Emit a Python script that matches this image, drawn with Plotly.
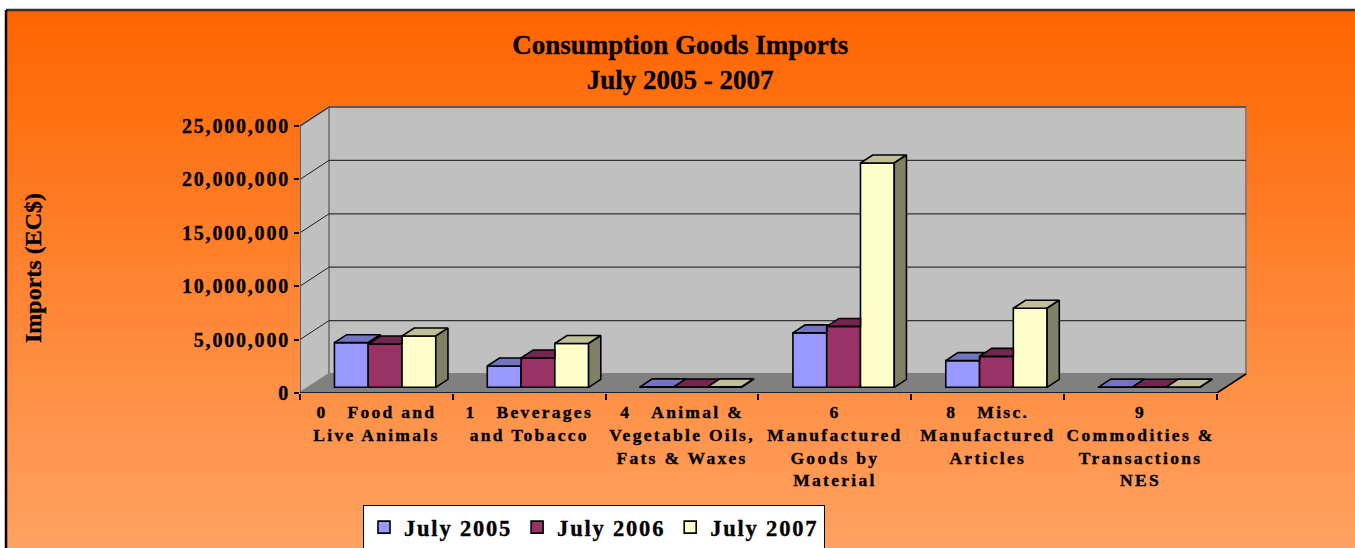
import base64
import struct
import zlib

import plotly.graph_objects as go

# ---------------- data ----------------
category_lines = [
    ["0\u00a0\u00a0\u00a0Food and", "Live Animals"],
    ["1\u00a0\u00a0\u00a0Beverages", "and Tobacco"],
    ["4\u00a0\u00a0\u00a0Animal &", "Vegetable Oils,", "Fats & Waxes"],
    ["6", "Manufactured", "Goods by", "Material"],
    ["8\u00a0\u00a0\u00a0Misc.", "Manufactured", "Articles"],
    ["9", "Commodities &", "Transactions", "NES"],
]
series_names = ["July 2005", "July 2006", "July 2007"]
july_2005 = [4_180_000, 2_000_000, 40_000, 5_100_000, 2_500_000, 15_000]
july_2006 = [4_050_000, 2_750_000, 35_000, 5_700_000, 2_900_000, 12_000]
july_2007 = [4_800_000, 4_100_000, 45_000, 21_000_000, 7_400_000, 18_000]
y_tick_values = [0, 5_000_000, 10_000_000, 15_000_000, 20_000_000, 25_000_000]
y_tick_labels = ["0", "5,000,000", "10,000,000", "15,000,000", "20,000,000", "25,000,000"]

series_values = [july_2005, july_2006, july_2007]

# ---------------- styles ----------------
front_colors = ["#9999FF", "#993366", "#FFFFCC"]
top_colors = ["#7373BF", "#73264D", "#BFBF99"]
side_colors = ["#4D4D80", "#4D1A33", "#808066"]
FONT = "Liberation Serif"

# ---------------- geometry (oblique 3-D look) ----------------
W, H = 1355, 548
PL, PR, PT, PB = 300, 1250, 100, 393          # plot area in pixels
PX_PER_CAT = 152.83
PX_PER_VAL = 53.4 / 5_000_000
X_MAX = (PR - PL) / PX_PER_CAT
Y_MAX = (PB - PT) / PX_PER_VAL
N = len(category_lines)
WALL_TOP = y_tick_values[-1]
DX = 29 / PX_PER_CAT                           # full depth, x units
DV = 19 / PX_PER_VAL                           # full depth, value units
F0, F1 = 0.30, 0.72                            # bar front / back depth
BW = 0.221                                     # bar width
ddx, ddv = (F1 - F0) * DX, (F1 - F0) * DV
BASE = F0 * DV


def fmt(text, spacing, stroke=0.35):
    return (f'<span style="letter-spacing:{spacing}px;stroke:black;stroke-width:{stroke}px">'
            f'<b>{text}</b></span>')


tick_text = ["<br>".join(fmt(t, 2.3) for t in lines) for lines in category_lines]
y_text = [fmt(t, 1.8) for t in y_tick_labels]

fig = go.Figure()

# front faces: real bars
for k, (name, vals) in enumerate(zip(series_names, series_values)):
    fig.add_trace(go.Bar(
        x=[i + 0.5 + F0 * DX for i in range(N)], y=vals, base=BASE,
        width=BW, offset=-1.5 * BW + k * BW,
        name=fmt(name, 1.8),
        marker=dict(color=front_colors[k], line=dict(color="black", width=1.6)),
        hovertemplate=name + ": %{y:,.0f}<extra></extra>",
    ))

# top and side faces derived from the values
for k, vals in enumerate(series_values):
    tx, ty, sx, sy = [], [], [], []
    for i, v in enumerate(vals):
        L = i + 0.5 - 1.5 * BW + k * BW + F0 * DX
        R = L + BW
        T = BASE + v
        T2 = BASE + series_values[k + 1][i] if k + 1 < len(series_values) else BASE
        if T2 > T:
            t = min((T2 - T) / ddv, 1.0)
            px = [L, R, R, R + (1 - t) * ddx, L + ddx, L]
            py = [T, T, T + t * ddv, T + ddv, T + ddv, T]
        else:
            px = [L, R, R + ddx, L + ddx, L]
            py = [T, T, T + ddv, T + ddv, T]
            sx += [R, R, R + ddx, R + ddx, R, None]
            sy += [T2, T, T + ddv, T2 + ddv, T2, None]
        tx += px + [None]
        ty += py + [None]
    fig.add_trace(go.Scatter(x=tx, y=ty, mode="lines", fill="toself",
                             fillcolor=top_colors[k], line=dict(color="black", width=1.6),
                             showlegend=False, hoverinfo="skip"))
    if sx:
        fig.add_trace(go.Scatter(x=sx, y=sy, mode="lines", fill="toself",
                                 fillcolor=side_colors[k], line=dict(color="black", width=1.6),
                                 showlegend=False, hoverinfo="skip"))

# ---------------- walls, floor, grid ----------------
def path(pts):
    return "M " + " L ".join(f"{x},{y}" for x, y in pts) + " Z"


shapes = []
shapes.append(dict(type="path", layer="below", xref="x", yref="y",
                   path=path([(DX, DV), (N + DX, DV), (N + DX, WALL_TOP + DV), (DX, WALL_TOP + DV)]),
                   fillcolor="#C0C0C0", line=dict(color="#808080", width=2)))
shapes.append(dict(type="path", layer="below", xref="x", yref="y",
                   path=path([(0, 0), (0, WALL_TOP), (DX, WALL_TOP + DV), (DX, DV)]),
                   fillcolor="#C0C0C0", line=dict(color="#808080", width=2)))
shapes.append(dict(type="path", layer="below", xref="x", yref="y",
                   path=path([(0, 0), (N, 0), (N + DX, DV), (DX, DV)]),
                   fillcolor="#808080", line=dict(color="#808080", width=1)))
for v in y_tick_values[1:]:
    shapes.append(dict(type="line", layer="below", xref="x", yref="y",
                       x0=DX, y0=v + DV, x1=N + DX, y1=v + DV,
                       line=dict(color="#333333", width=1.2)))
    shapes.append(dict(type="line", layer="below", xref="x", yref="y",
                       x0=0, y0=v, x1=DX, y1=v + DV,
                       line=dict(color="#222222", width=1)))
# axis lines
shapes.append(dict(type="line", layer="below", xref="x", yref="y",
                   x0=0, y0=0, x1=0, y1=WALL_TOP, line=dict(color="#555555", width=1.5)))
shapes.append(dict(type="line", layer="above", xref="x", yref="y",
                   x0=0, y0=0, x1=N, y1=0, line=dict(color="black", width=1.6)))
shapes.append(dict(type="line", layer="below", xref="x", yref="y",
                   x0=N, y0=0, x1=N + DX, y1=DV, line=dict(color="black", width=1.5)))


def paper_x(px):
    return (px - PL) / (PR - PL)


def paper_y(py):
    return (PB - py) / (PB - PT)


# outer frame
shapes.append(dict(type="line", xref="paper", yref="paper", layer="above",
                   x0=paper_x(6), y0=paper_y(10), x1=paper_x(W + 5), y1=paper_y(10),
                   line=dict(color="#333333", width=2.5)))
shapes.append(dict(type="line", xref="paper", yref="paper", layer="above",
                   x0=paper_x(6), y0=paper_y(10), x1=paper_x(6), y1=paper_y(H + 5),
                   line=dict(color="black", width=2.5)))

# ---------------- gradient background ----------------
def png_uri(top, bottom, n=64):
    rows = []
    for j in range(n):
        f = j / (n - 1)
        c = bytes(round(a + (b - a) * f) for a, b in zip(top, bottom))
        rows.append(b"\x00" + c * 2)
    raw = b"".join(rows)

    def chunk(tag, data):
        return struct.pack(">I", len(data)) + tag + data + struct.pack(">I", zlib.crc32(tag + data) & 0xFFFFFFFF)

    png = (b"\x89PNG\r\n\x1a\n" + chunk(b"IHDR", struct.pack(">IIBBBBB", 2, n, 8, 2, 0, 0, 0))
           + chunk(b"IDAT", zlib.compress(raw)) + chunk(b"IEND", b""))
    return "data:image/png;base64," + base64.b64encode(png).decode()


bg = dict(source=png_uri((255, 102, 0), (255, 163, 100)), xref="paper", yref="paper",
          x=paper_x(6), y=paper_y(10), sizex=(W - 6 + 10) / (PR - PL), sizey=(H - 10 + 10) / (PB - PT),
          xanchor="left", yanchor="top", sizing="stretch", layer="below")

fig.update_layout(
    template="none",
    width=W, height=H, autosize=False,
    margin=dict(l=PL, r=W - PR, t=PT, b=H - PB, pad=0, autoexpand=False),
    paper_bgcolor="white", plot_bgcolor="rgba(0,0,0,0)",
    barmode="overlay",
    images=[bg],
    shapes=shapes,
    title=dict(text=fmt("Consumption Goods Imports", 0, 0.3) + "<br>" + fmt("July 2005 - 2007", 0, 0.3),
               x=0.502, xanchor="center", xref="container",
               y=1 - 54 / H, yanchor="top", yref="container",
               font=dict(family=FONT, size=27, color="black", weight="bold")),
    xaxis=dict(range=[0, X_MAX], showgrid=False, zeroline=False, showline=False,
               tickmode="array", tickvals=[i + 0.5 for i in range(N)], ticktext=tick_text,
               ticks="outside", ticklen=0, automargin=False, ticklabelstandoff=3,
               minor=dict(tickmode="array", tickvals=list(range(N + 1)), ticks="outside",
                          ticklen=6, tickcolor="black", tickwidth=1.5),
               tickfont=dict(family=FONT, size=17.5, color="black", weight="bold"),
               fixedrange=True),
    yaxis=dict(range=[0, Y_MAX], showgrid=False, zeroline=False, showline=False,
               tickmode="array", tickvals=y_tick_values, ticktext=y_text,
               ticks="outside", ticklen=5, tickcolor="black", tickwidth=1.5, automargin=False,
               tickfont=dict(family=FONT, size=20, color="black", weight="bold"),
               fixedrange=True),
    legend=dict(orientation="h", x=paper_x(594), xanchor="center", y=paper_y(505), yanchor="top",
                bgcolor="white", bordercolor="black", borderwidth=1,
                font=dict(family=FONT, size=22.5, color="black", weight="bold")),
    annotations=[dict(text=fmt("Imports (EC$)", 0, 0.3), textangle=-90, xref="paper", yref="paper",
                      x=paper_x(33), y=paper_y(268), xanchor="center", yanchor="middle",
                      showarrow=False,
                      font=dict(family=FONT, size=24, color="black", weight="bold"))],
    showlegend=True,
)

fig.write_html("out.html", config={"displayModeBar": False},
               post_script="document.body.style.margin='0';document.body.style.overflow='hidden';")
